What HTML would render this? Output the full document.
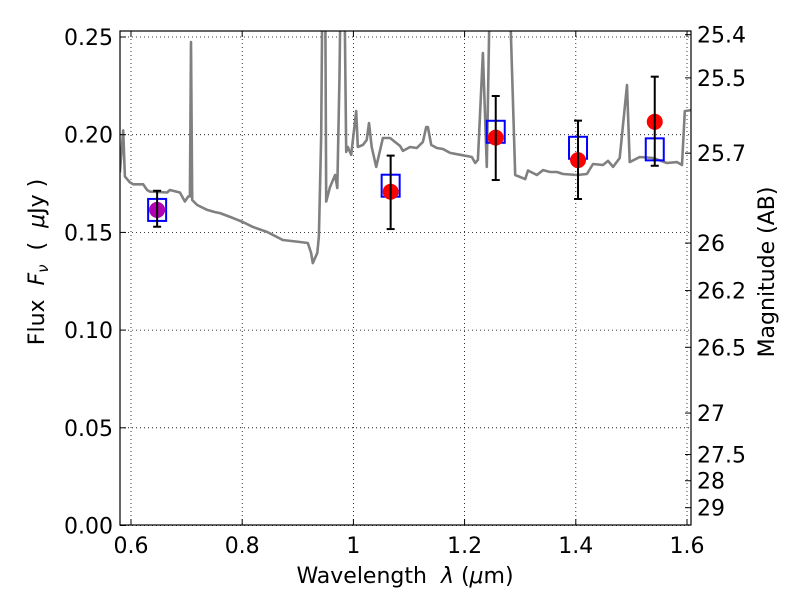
<!DOCTYPE html>
<html><head><meta charset="utf-8"><style>
body{margin:0;background:#fff}
svg text{font-family:"DejaVu Sans","Liberation Sans",sans-serif;fill:#000;white-space:pre}
</style></head><body>
<svg id="chart" width="800" height="600" xmlns="http://www.w3.org/2000/svg"></svg>
<script>
const specLam=[0.580,0.586,0.589,0.598,0.604,0.622,0.629,0.634,0.665,0.670,0.688,0.697,0.703,0.706,0.708,0.710,0.719,0.737,0.751,0.760,0.783,0.801,0.819,0.845,0.855,0.873,0.904,0.918,0.924,0.927,0.935,0.938,0.942,0.945,0.949,0.951,0.958,0.967,0.971,0.975,0.978,0.983,0.987,0.990,0.996,1.005,1.008,1.017,1.024,1.028,1.033,1.041,1.053,1.066,1.084,1.089,1.102,1.114,1.125,1.131,1.134,1.140,1.150,1.161,1.174,1.192,1.204,1.213,1.219,1.224,1.233,1.240,1.247,1.278,1.291,1.309,1.314,1.330,1.341,1.354,1.366,1.377,1.402,1.420,1.431,1.449,1.458,1.467,1.479,1.492,1.497,1.515,1.539,1.564,1.582,1.591,1.596,1.607];
const specFlux=[.1807,.2022,.1786,.1756,.1746,.1746,.1717,.1709,.1704,.1717,.1704,.1658,.1684,.1684,.2474,.1666,.1640,.1615,.1604,.1599,.1574,.1553,.1528,.1502,.1487,.1461,.1451,.1446,.1395,.1343,.1395,.1480,.2000,.30,.30,.1658,.1732,.1794,.1727,.2300,.30,.30,.1912,.1937,.1897,.2121,.1937,.1948,.1973,.2060,.1937,.1835,.1983,.1983,.1942,.1917,.1937,.1932,.1963,.2039,.2039,.1948,.1932,.1927,.1907,.1897,.1891,.1886,.1855,.1871,.2418,.1835,.30,.30,.1794,.1773,.1817,.1794,.1819,.1809,.1809,.1799,.1794,.1799,.1850,.1845,.1866,.1835,.1881,.2254,.1860,.1886,.1881,.1855,.1860,.1845,.2121,.2126];
const bandLam=[0.647,1.067,1.256,1.404,1.542];
const modelFlux=[0.1615,0.1739,0.2015,0.1933,0.1925];
const obsFlux=[0.1615,0.1708,0.1985,0.1870,0.2066];
const errHi=[0.1713,0.1893,0.2198,0.2072,0.2297];
const errLo=[0.1529,0.1517,0.1768,0.1671,0.1841];
const obsColor=['#b000b0','red','red','red','red'];
const xTicks=[0.6,0.8,1.0,1.2,1.4,1.6];
const xTickLabels=['0.6','0.8','1','1.2','1.4','1.6'];
const yTicks=[0,0.05,0.10,0.15,0.20,0.25];
const yTickLabels=['0.00','0.05','0.10','0.15','0.20','0.25'];
const magTicks=[25.4,25.5,25.7,26,26.2,26.5,27,27.5,28,29];
const magLabels=['25.4','25.5','25.7','26','26.2','26.5','27','27.5','28','29'];

const L=120,R=691,T=31,B=525;
const sx=v=>131+(v-0.6)*556;
const sy=v=>525.5-v*1954;
const NS='http://www.w3.org/2000/svg';
const svg=document.getElementById('chart');
function mk(tag,attrs,parent){const e=document.createElementNS(NS,tag);for(const k in attrs)e.setAttribute(k,attrs[k]);(parent||svg).appendChild(e);return e;}

const defs=mk('defs',{});
const cp=mk('clipPath',{id:'clip'},defs);
mk('rect',{x:L,y:T,width:R-L,height:B-T},cp);

xTicks.forEach(v=>{const g=mk('line',{x1:sx(v),x2:sx(v),y1:T,y2:B,stroke:'#000','stroke-width':0.8,'stroke-dasharray':'1,3'});

});
yTicks.forEach(v=>{const g=mk('line',{x1:L,x2:R,y1:sy(v),y2:sy(v),stroke:'#000','stroke-width':0.8,'stroke-dasharray':'1,3'});

});

const pts=specLam.map((l,i)=>sx(l).toFixed(1)+','+sy(specFlux[i]).toFixed(1)).join(' ');
const sp=mk('polyline',{points:pts,fill:'none',stroke:'#808080','stroke-width':2.6,'clip-path':'url(#clip)','stroke-linejoin':'round'});



bandLam.forEach((l,i)=>{const r=mk('rect',{x:sx(l)-9,y:sy(modelFlux[i])-11,width:18,height:22,fill:'none',stroke:'#0000ff','stroke-width':2});

});
bandLam.forEach((l,i)=>{const c=mk('circle',{cx:sx(l),cy:sy(obsFlux[i]),r:8,fill:obsColor[i]});

});
bandLam.forEach((l,i)=>{const g=mk('g',{stroke:'#000','stroke-width':2});


const x=sx(l);mk('line',{x1:x,x2:x,y1:sy(errHi[i]),y2:sy(errLo[i])},g);
mk('line',{x1:x-4,x2:x+4,y1:sy(errHi[i]),y2:sy(errHi[i])},g);
mk('line',{x1:x-4,x2:x+4,y1:sy(errLo[i]),y2:sy(errLo[i])},g);});

const fr=mk('rect',{x:L,y:T,width:R-L,height:B-T,fill:'none',stroke:'#000','stroke-width':1.2});



xTicks.forEach((v,i)=>{const x=sx(v);
mk('line',{x1:x,x2:x,y1:B,y2:B-6,stroke:'#000'});mk('line',{x1:x,x2:x,y1:T,y2:T+6,stroke:'#000'});
const t=mk('text',{x:x,y:553,'font-size':22,'text-anchor':'middle'});t.textContent=xTickLabels[i];

});
yTicks.forEach((v,i)=>{const y=sy(v);
mk('line',{x1:L,x2:L+6,y1:y,y2:y,stroke:'#000'});
const t=mk('text',{x:113,y:y+8,'font-size':22,'text-anchor':'end'});t.textContent=yTickLabels[i];

});
magTicks.forEach((m,i)=>{const y=sy(Math.pow(10,(23.9-m)/2.5));
mk('line',{x1:R,x2:R-6,y1:y,y2:y,stroke:'#000'});
const t=mk('text',{x:697,y:y+8,'font-size':22,'text-anchor':'start'});t.textContent=magLabels[i];

});
</script>
<svg style="position:absolute;left:0;top:0" width="800" height="600" xmlns="http://www.w3.org/2000/svg">
<text x="405" y="583" font-size="22" text-anchor="middle">Wavelength  <tspan font-style="italic">λ</tspan> (<tspan font-style="italic">μ</tspan>m)</text>
<text transform="translate(44,262) rotate(-90)" font-size="22" text-anchor="middle">Flux  <tspan font-style="italic">F</tspan><tspan font-style="italic" font-size="15" dy="4">ν</tspan><tspan dy="-4">  (  </tspan><tspan font-style="italic">μ</tspan>Jy )</text>
<text transform="translate(774,272) rotate(-90)" font-size="22" text-anchor="middle">Magnitude (AB)</text>
</svg>
</body></html>
